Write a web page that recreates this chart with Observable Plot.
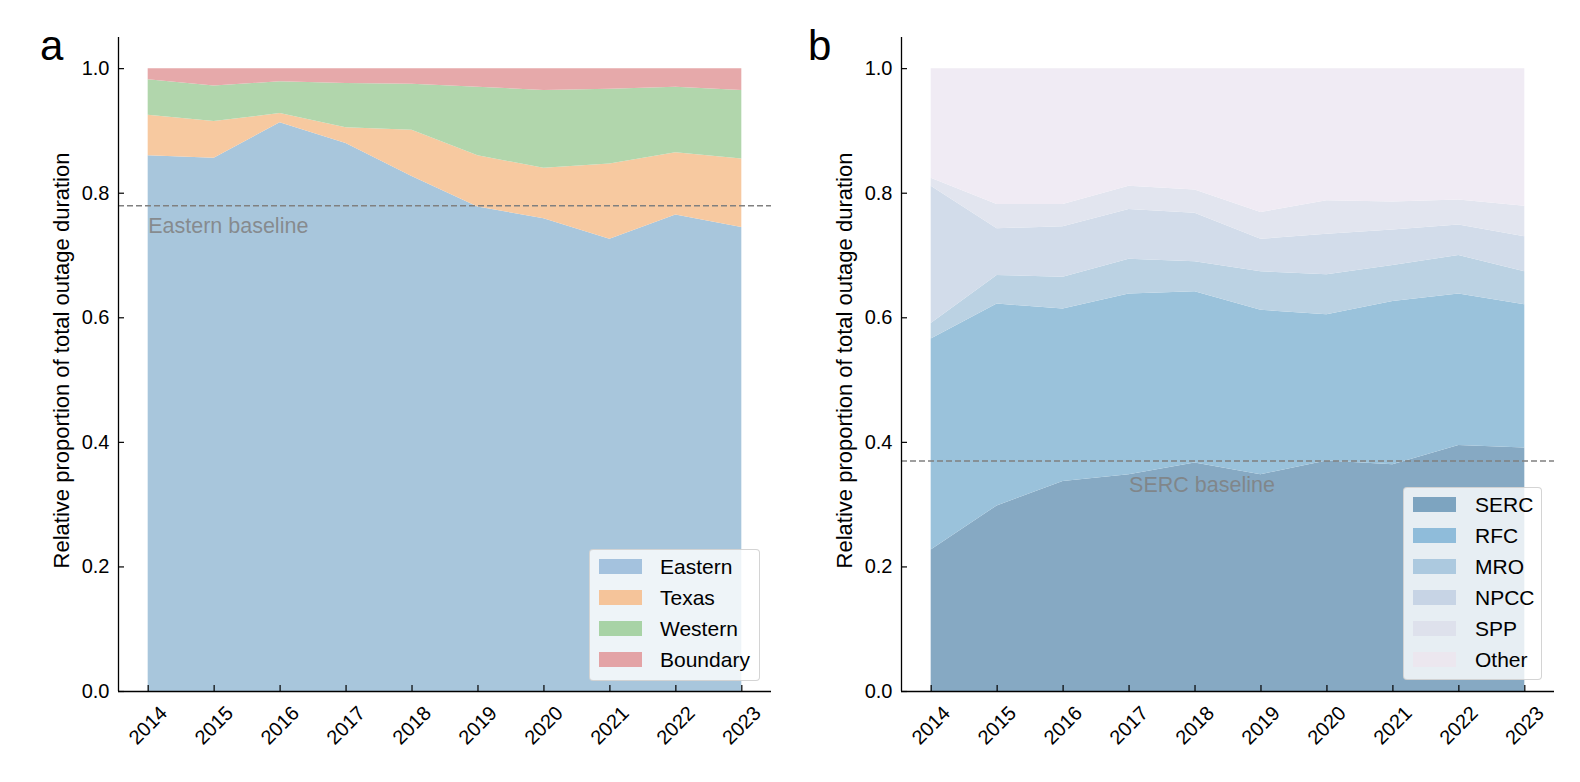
<!DOCTYPE html>
<html>
<head>
<meta charset="utf-8">
<script src="https://cdn.jsdelivr.net/npm/d3@7"></script>
<script src="https://cdn.jsdelivr.net/npm/@observablehq/plot@0.6"></script>
<style>
  html, body { margin: 0; padding: 0; background: #fff; }
  #root { position: relative; width: 1580px; height: 782px; font-family: "Liberation Sans", Arial, sans-serif; color: #000; }
  .panel { position: absolute; top: 0; }
  .letter { position: absolute; font-size: 42px; line-height: 1; }
  .legend { position: absolute; background: rgba(255,255,255,0.8); border: 1px solid rgba(204,204,204,0.85); border-radius: 4px; box-sizing: border-box; }
  .legend .sw { position: absolute; width: 43px; height: 15px; }
  .legend .lb { position: absolute; font-size: 21px; line-height: 21px; white-space: nowrap; }
</style>
</head>
<body>
<div id="root"></div>
<script>
// ---------- data ----------
const years = [2014, 2015, 2016, 2017, 2018, 2019, 2020, 2021, 2022, 2023];
const yTicks = [0, 0.2, 0.4, 0.6, 0.8, 1.0];

// Panel a: interconnections (share of total outage duration)
const seriesA = ["Eastern", "Texas", "Western", "Boundary"];
const eastern  = [0.860, 0.856, 0.913, 0.880, 0.827, 0.778, 0.759, 0.726, 0.765, 0.745];
const texas    = [0.065, 0.059, 0.015, 0.025, 0.074, 0.082, 0.081, 0.121, 0.100, 0.110];
const western  = [0.057, 0.057, 0.051, 0.071, 0.074, 0.110, 0.125, 0.120, 0.105, 0.110];
const boundary = [0.018, 0.028, 0.021, 0.024, 0.025, 0.030, 0.035, 0.033, 0.030, 0.035];
const colorsA  = ["#a8c6dc", "#f7c9a0", "#b1d6ac", "#e6a9aa"];
const swatchA  = ["#a4c2de", "#f5c49a", "#a8d3a6", "#e3a3a6"];
const baselineA = 0.78;

// Panel b: NERC regions
const seriesB = ["SERC", "RFC", "MRO", "NPCC", "SPP", "Other"];
const serc  = [0.227, 0.298, 0.337, 0.348, 0.367, 0.348, 0.370, 0.364, 0.395, 0.391];
const rfc   = [0.339, 0.324, 0.277, 0.290, 0.275, 0.264, 0.235, 0.262, 0.243, 0.230];
const mro   = [0.025, 0.046, 0.051, 0.056, 0.048, 0.062, 0.064, 0.058, 0.062, 0.053];
const npcc  = [0.220, 0.075, 0.081, 0.080, 0.078, 0.052, 0.065, 0.057, 0.049, 0.056];
const spp   = [0.013, 0.039, 0.036, 0.037, 0.037, 0.043, 0.054, 0.045, 0.040, 0.049];
const other = [0.176, 0.218, 0.218, 0.189, 0.195, 0.231, 0.212, 0.214, 0.211, 0.221];
const colorsB = ["#86a9c3", "#9ac2db", "#bbd2e3", "#d2dcea", "#e2e5ef", "#f0ebf4"];
const swatchB = ["#7da4c0", "#8fbcda", "#acc9df", "#c7d4e5", "#dee1ec", "#ece7ef"];
const baselineB = 0.37;

const yLabel = "Relative proportion of total outage duration";

// ---------- helpers ----------
function tidy(series, values) {
  return series.flatMap((s, i) => years.map((y, j) => ({year: y, series: s, value: values[i][j]})));
}

const W = 790, H = 782, MT = 37, MB = 91;
const xDomain = [2013.55, 2023.45];
const yDomain = [0, 1.05];

function panel({data, series, colors, baseline, baselineText, baseDy, baseX, marginLeft, marginRight}) {
  const pxPerYear = (W - marginLeft - marginRight) / (xDomain[1] - xDomain[0]);
  const pxPerUnit = (H - MT - MB) / (yDomain[1] - yDomain[0]);
  const tickLen = 6;
  return Plot.plot({
    width: W, height: H,
    marginLeft, marginRight, marginTop: MT, marginBottom: MB,
    style: {fontFamily: '"Liberation Sans", Arial, sans-serif', background: "transparent", overflow: "visible"},
    x: {domain: xDomain, axis: null},
    y: {domain: yDomain, axis: null},
    color: {domain: series, range: colors},
    marks: [
      Plot.areaY(data, {x: "year", y: "value", fill: "series", order: series}),
      Plot.ruleY([baseline], {stroke: "#808080", strokeWidth: 1.5, strokeDasharray: "6,3"}),
      Plot.text([baselineText], {x: baseX, y: baseline, dy: baseDy, textAnchor: "start", fontSize: 21.5, fill: "#808080", fillOpacity: 0.85}),
      // spines
      Plot.ruleX([xDomain[0]], {stroke: "#000", strokeWidth: 1.3}),
      Plot.ruleY([0], {stroke: "#000", strokeWidth: 1.3}),
      // inward ticks
      Plot.ruleX(years, {x: d => d, y1: 0, y2: tickLen / pxPerUnit, stroke: "#000", strokeWidth: 1.2}),
      Plot.ruleY(yTicks, {y: d => d, x1: xDomain[0], x2: xDomain[0] + tickLen / pxPerYear, stroke: "#000", strokeWidth: 1.2}),
      // tick labels
      Plot.text(yTicks, {y: d => d, frameAnchor: "left", dx: -9, textAnchor: "end", text: d => d3.format(".1f")(d), fontSize: 20, fill: "#000"}),
      Plot.text(years, {x: d => d, frameAnchor: "bottom", dy: 34, rotate: -45, textAnchor: "middle", lineAnchor: "middle", text: d => String(d), fontSize: 20, fill: "#000"}),
      // y label
      Plot.text([yLabel], {frameAnchor: "left", dx: -57, dy: -4, rotate: -90, textAnchor: "middle", lineAnchor: "middle", fontSize: 22, fill: "#000"})
    ]
  });
}

const root = document.getElementById("root");

function addPanel(left, svg) {
  const d = document.createElement("div");
  d.className = "panel";
  d.style.left = left + "px";
  d.appendChild(svg);
  root.appendChild(d);
}

addPanel(0, panel({
  data: tidy(seriesA, [eastern, texas, western, boundary]),
  series: seriesA, colors: colorsA, baseline: baselineA,
  baselineText: "Eastern baseline", baseDy: 20, baseX: 2014,
  marginLeft: 118, marginRight: 19
}));
addPanel(790, panel({
  data: tidy(seriesB, [serc, rfc, mro, npcc, spp, other]),
  series: seriesB, colors: colorsB, baseline: baselineB,
  baselineText: "SERC baseline", baseDy: 24.5, baseX: 2017,
  marginLeft: 111, marginRight: 26
}));

function addLegend({left, top, width, height, series, swatches, textLeft}) {
  const box = document.createElement("div");
  box.className = "legend";
  Object.assign(box.style, {left: left + "px", top: top + "px", width: width + "px", height: height + "px"});
  series.forEach((s, i) => {
    const cy = 16.5 + i * 31;
    const sw = document.createElement("div");
    sw.className = "sw";
    Object.assign(sw.style, {left: "9px", top: (cy - 7.5) + "px", background: swatches[i]});
    const lb = document.createElement("div");
    lb.className = "lb";
    Object.assign(lb.style, {left: textLeft + "px", top: (cy - 10.5) + "px"});
    lb.textContent = s;
    box.appendChild(sw);
    box.appendChild(lb);
  });
  root.appendChild(box);
}

addLegend({left: 589, top: 549, width: 171, height: 132, series: seriesA, swatches: swatchA, textLeft: 70});
addLegend({left: 1403, top: 487, width: 139, height: 193, series: seriesB, swatches: swatchB, textLeft: 71});

function addLetter(t, left) {
  const d = document.createElement("div");
  d.className = "letter";
  d.textContent = t;
  Object.assign(d.style, {left: left + "px", top: "25px"});
  root.appendChild(d);
}
addLetter("a", 40);
addLetter("b", 808);
</script>
</body>
</html>
